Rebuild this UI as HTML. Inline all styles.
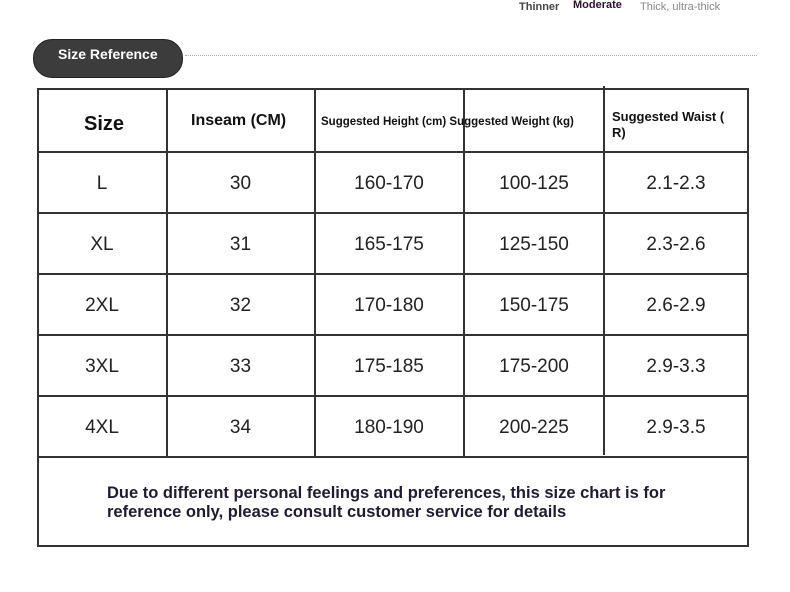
<!DOCTYPE html>
<html><head><style>
body{margin:0;width:790px;height:592px;background:#fff;position:relative;font-family:"Liberation Sans",sans-serif;overflow:hidden}
.a{position:absolute;white-space:nowrap}
.h{position:absolute;background:#333}
.v{position:absolute;background:#333}
.c{position:absolute;text-align:center;font-size:19px;color:#222;line-height:61px}
</style></head><body>
<div class="a" style="left:519px;top:1px;font-size:11px;font-weight:bold;color:#444">Thinner</div>
<div class="a" style="left:573px;top:-1px;font-size:11px;font-weight:bold;color:#301030">Moderate</div>
<div class="a" style="left:640px;top:1px;font-size:11px;color:#888">Thick, ultra-thick</div>
<div class="a" style="left:33px;top:39px;width:148px;height:37px;border-radius:19px;background:#3c3c3c;border:1px solid #222"></div>
<div class="a" style="left:58px;top:46px;font-size:14px;font-weight:bold;color:#fff">Size Reference</div>
<div class="a" style="left:185px;top:55px;width:572px;border-top:1px dotted #aaa"></div>

<div class="h" style="left:37px;top:88px;width:712px;height:2px"></div>
<div class="h" style="left:37px;top:151px;width:712px;height:2px"></div>
<div class="h" style="left:37px;top:212px;width:712px;height:2px"></div>
<div class="h" style="left:37px;top:273px;width:712px;height:2px"></div>
<div class="h" style="left:37px;top:334px;width:712px;height:2px"></div>
<div class="h" style="left:37px;top:395px;width:712px;height:2px"></div>
<div class="h" style="left:37px;top:456px;width:712px;height:2px"></div>
<div class="h" style="left:37px;top:545px;width:712px;height:2px"></div>
<div class="v" style="left:37px;top:88px;width:2px;height:459px"></div>
<div class="v" style="left:747px;top:88px;width:2px;height:459px"></div>
<div class="v" style="left:166px;top:88px;width:1.5px;height:369px"></div>
<div class="v" style="left:314px;top:88px;width:1.5px;height:369px"></div>
<div class="v" style="left:463px;top:88px;width:1.5px;height:369px"></div>
<div class="v" style="left:603px;top:86px;width:1.5px;height:369px"></div>

<div class="a" style="left:84px;top:113px;font-size:20px;font-weight:bold;color:#111">Size</div>
<div class="a" style="left:191px;top:112px;font-size:16px;font-weight:bold;color:#111">Inseam (CM)</div>
<div class="a" style="left:321px;top:116px;font-size:11.5px;font-weight:bold;color:#111">Suggested Height (cm) Suggested Weight (kg)</div>
<div class="a" style="left:612px;top:109px;font-size:13px;font-weight:bold;color:#111;line-height:16px">Suggested Waist (<br>R)</div>

<div class="c" style="left:38px;width:128px;top:153px">L<br>XL<br>2XL<br>3XL<br>4XL</div>
<div class="c" style="left:167px;width:147px;top:153px">30<br>31<br>32<br>33<br>34</div>
<div class="c" style="left:315px;width:148px;top:153px">160-170<br>165-175<br>170-180<br>175-185<br>180-190</div>
<div class="c" style="left:464px;width:140px;top:153px">100-125<br>125-150<br>150-175<br>175-200<br>200-225</div>
<div class="c" style="left:604px;width:144px;top:153px">2.1-2.3<br>2.3-2.6<br>2.6-2.9<br>2.9-3.3<br>2.9-3.5</div>

<div class="a" style="left:107px;top:484px;font-size:16.5px;font-weight:bold;color:#221a30;line-height:19px">Due to different personal feelings and preferences, this size chart is for<br>reference only, please consult customer service for details</div>
</body></html>
